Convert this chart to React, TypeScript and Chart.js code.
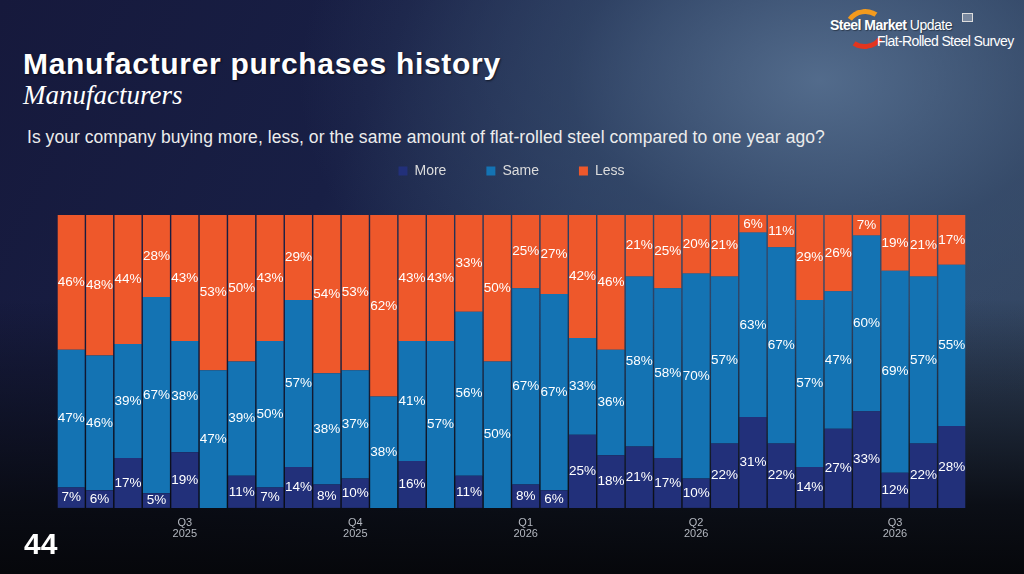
import React, { useRef, useEffect } from 'react';
import { Chart, registerables } from 'chart.js';

Chart.register(...registerables);

const categories: (string | string[])[] = [
  '', '', '', '', ['Q3', '2025'], '', '', '', '', '', ['Q4', '2025'], '', '', '', '', '',
  ['Q1', '2026'], '', '', '', '', '', ['Q2', '2026'], '', '', '', '', '', '', ['Q3', '2026'], '', '',
];

const more = [7, 6, 17, 5, 19, 0, 11, 7, 14, 8, 10, 0, 16, 0, 11, 0, 8, 6, 25, 18, 21, 17, 10, 22, 31, 22, 14, 27, 33, 12, 22, 28];
const same = [47, 46, 39, 67, 38, 47, 39, 50, 57, 38, 37, 38, 41, 57, 56, 50, 67, 67, 33, 36, 58, 58, 70, 57, 63, 67, 57, 47, 60, 69, 57, 55];
const less = [46, 48, 44, 28, 43, 53, 50, 43, 29, 54, 53, 62, 43, 43, 33, 50, 25, 27, 42, 46, 21, 25, 20, 21, 6, 11, 29, 26, 7, 19, 21, 17];

const SANS = '"Liberation Sans", Arial, Helvetica, sans-serif';

// draws the "46%" labels in the middle of each segment
const segmentLabels = {
  id: 'segmentLabels',
  afterDatasetsDraw(chart: Chart) {
    const ctx = chart.ctx;
    ctx.save();
    ctx.font = `13.5px ${SANS}`;
    ctx.fillStyle = '#ffffff';
    ctx.textAlign = 'center';
    ctx.textBaseline = 'middle';
    chart.data.datasets.forEach((ds, di) => {
      const meta = chart.getDatasetMeta(di);
      meta.data.forEach((el: any, i) => {
        const v = ds.data[i] as number;
        if (!v) return;
        ctx.fillText(`${v}%`, el.x, (el.y + el.base) / 2);
      });
    });
    ctx.restore();
  },
};

// extra room between the legend and the bars
const legendGap = {
  id: 'legendGap',
  beforeInit(chart: any) {
    const fit = chart.legend.fit;
    chart.legend.fit = function () {
      fit.call(this);
      this.height += 27;
    };
  },
};

const StackedChart: React.FC = () => {
  const canvasRef = useRef<HTMLCanvasElement>(null);
  const chartRef = useRef<Chart | null>(null);

  useEffect(() => {
    if (!canvasRef.current) return;
    const ctx = canvasRef.current.getContext('2d');
    if (!ctx) return;
    if (chartRef.current) chartRef.current.destroy();

    chartRef.current = new Chart(ctx, {
      type: 'bar',
      data: {
        labels: categories,
        datasets: [
          { label: 'More', data: more, backgroundColor: '#22307a' },
          { label: 'Same', data: same, backgroundColor: '#1473b3' },
          { label: 'Less', data: less, backgroundColor: '#ee582b' },
        ],
      },
      options: {
        animation: false,
        responsive: true,
        maintainAspectRatio: false,
        layout: { padding: { left: 57, right: 58, top: 0, bottom: 0 } },
        datasets: { bar: { barPercentage: 1, categoryPercentage: 0.95 } },
        plugins: {
          legend: {
            position: 'top',
            labels: {
              boxWidth: 9,
              boxHeight: 9,
              padding: 40,
              color: '#dcdcdc',
              font: { family: SANS, size: 14 },
            },
          },
          tooltip: { enabled: false },
        },
        scales: {
          x: {
            stacked: true,
            grid: { display: false },
            border: { display: false },
            ticks: {
              autoSkip: false,
              maxRotation: 0,
              color: '#b4b8c0',
              padding: 1,
              font: { family: SANS, size: 11, lineHeight: 1.05 },
            },
          },
          y: { stacked: true, min: 0, max: 100, display: false },
        },
      },
      plugins: [legendGap, segmentLabels],
    });

    return () => {
      if (chartRef.current) chartRef.current.destroy();
    };
  }, []);

  return <canvas ref={canvasRef} />;
};

const App: React.FC = () => {
  return (
    <div
      style={{
        position: 'fixed',
        left: 0,
        top: 0,
        width: 1024,
        height: 574,
        overflow: 'hidden',
        fontFamily: SANS,
        background: [
          'linear-gradient(to bottom, rgba(0,0,0,0) 52%, rgba(8,10,16,0.92) 88%, #06070b 100%)',
          'radial-gradient(ellipse 520px 340px at 80% 14%, rgba(92,118,150,0.8) 0%, rgba(58,80,112,0.55) 48%, rgba(0,0,0,0) 100%)',
          'linear-gradient(115deg, #16193c 0%, #181f45 32%, #25365a 52%, #2f4364 72%, #34465f 100%)',
        ].join(', '),
      }}
    >
      <div style={{ position: 'absolute', left: 23, top: 47, color: '#fff', fontWeight: 'bold', fontSize: 30, letterSpacing: 0.7, whiteSpace: 'nowrap', textShadow: '1px 1px 2px rgba(0,0,0,0.6)' }}>
        Manufacturer purchases history
      </div>
      <div style={{ position: 'absolute', left: 23, top: 80, color: '#fff', fontStyle: 'italic', fontSize: 27, fontFamily: '"Liberation Serif", "DejaVu Serif", serif' }}>
        Manufacturers
      </div>
      <div style={{ position: 'absolute', left: 27, top: 127, color: '#ececec', fontSize: 17.5, letterSpacing: 0.05, whiteSpace: 'nowrap' }}>
        Is your company buying more, less, or the same amount of flat-rolled steel compared to one year ago?
      </div>

      {/* logo */}
      <div style={{ position: 'absolute', left: 844, top: 9, width: 32, height: 30, borderRadius: '50%', borderStyle: 'solid', borderWidth: 5, borderColor: '#f39a1d transparent #e2351f transparent', transform: 'rotate(-10deg)' }} />
      <div style={{ position: 'absolute', left: 830, top: 17, color: '#fff', fontSize: 14, letterSpacing: -0.5, whiteSpace: 'nowrap', textShadow: '1px 1px 1px rgba(0,0,0,0.4)' }}>
        <b>Steel Market</b> Update
      </div>
      <div style={{ position: 'absolute', left: 877, top: 33, color: '#fff', fontSize: 14, letterSpacing: -0.6, whiteSpace: 'nowrap' }}>
        Flat-Rolled Steel Survey
      </div>
      <div style={{ position: 'absolute', left: 962, top: 13, width: 9, height: 7, border: '1px solid #ddd', background: 'rgba(255,255,255,0.3)' }} />

      <div style={{ position: 'absolute', left: 0, top: 124, width: 1024, height: 417 }}>
        <StackedChart />
      </div>

      <div style={{ position: 'absolute', left: 24, top: 527, color: '#fff', fontWeight: 'bold', fontSize: 30 }}>44</div>
    </div>
  );
};

export default App;
